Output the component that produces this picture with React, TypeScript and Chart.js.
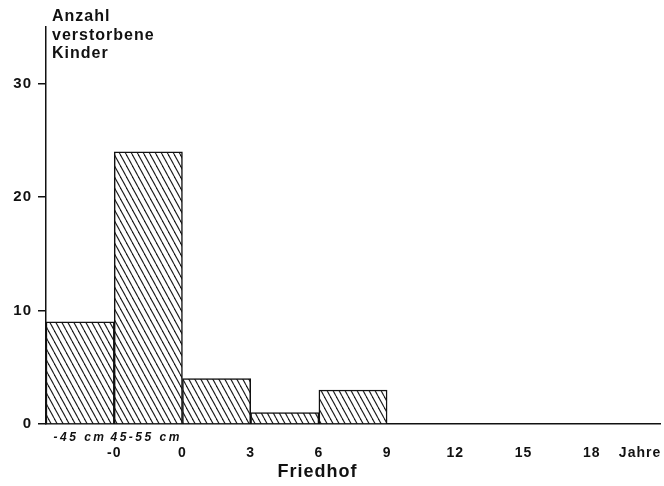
import React, { useEffect, useRef } from "react";
import { Chart, registerables } from "chart.js";

Chart.register(...registerables);

// Bin centers (in bin units along the x axis) and counts
const binCenters = [0.5, 1.5, 2.5, 3.5, 4.5, 5.5, 6.5, 7.5];
const counts = [9, 24, 4, 1, 3, 0, 0, 0];

// Main x tick positions and labels (bin boundaries)
const xTickValues = [1, 2, 3, 4, 5, 6, 7, 8];
const xTickLabels = ["-0", "0", "3", "6", "9", "12", "15", "18"];
const xUnitLabel = "Jahre";
const xUnitPos = 8.7;

// Size sub-labels under the first two bins
const sizeTickValues = [0.48, 1.45];
const sizeTickLabels = ["-45 cm", "45-55 cm"];

const yTickValues = [0, 10, 20, 30];
const yTitleLines = ["Anzahl", "verstorbene", "Kinder"];
const xTitle = "Friedhof";

const FONT = "'Liberation Sans', Arial, sans-serif";

function makeHatch(): CanvasPattern | string {
  const w = 6;
  const h = 11;
  const c = document.createElement("canvas");
  c.width = w;
  c.height = h;
  const ctx = c.getContext("2d");
  if (!ctx) return "#fff";
  ctx.fillStyle = "#ffffff";
  ctx.fillRect(0, 0, w, h);
  ctx.strokeStyle = "#1a1a1a";
  ctx.lineWidth = 1.1;
  for (const off of [-w, 0, w]) {
    ctx.beginPath();
    ctx.moveTo(off, 0);
    ctx.lineTo(off + w, h);
    ctx.stroke();
  }
  const p = ctx.createPattern(c, "repeat");
  return p || "#fff";
}

function spacedText(ctx: any, text: string, x: number, y: number, spacing: number, align: string) {
  ctx.letterSpacing = `${spacing}px`;
  const w = ctx.measureText(text).width - spacing;
  ctx.textAlign = "left";
  const x0 = align === "center" ? x - w / 2 : x;
  ctx.fillText(text, x0, y);
  ctx.letterSpacing = "0px";
}

export default function App() {
  const ref = useRef<HTMLCanvasElement | null>(null);

  useEffect(() => {
    if (!ref.current) return;
    const hatch = makeHatch();

    const textPlugin = {
      id: "customText",
      beforeDraw(chart: any) {
        chart.ctx.letterSpacing = "1px";
      },
      afterDraw(chart: any) {
        const ctx = chart.ctx;
        const xs = chart.scales.x;
        const bottom = chart.chartArea.bottom;
        ctx.save();
        ctx.fillStyle = "#111";
        ctx.font = `bold 16px ${FONT}`;
        ctx.textBaseline = "middle";
        yTitleLines.forEach((t, i) => spacedText(ctx, t, 52, 17 + i * 18.5, 1, "left"));
        ctx.font = `italic bold 12px ${FONT}`;
        sizeTickValues.forEach((v, i) =>
          spacedText(ctx, sizeTickLabels[i], xs.getPixelForValue(v), bottom + 14, 2.5, "center")
        );
        ctx.font = `bold 14px ${FONT}`;
        spacedText(ctx, xUnitLabel, xs.getPixelForValue(xUnitPos), bottom + 29, 1, "center");
        ctx.font = `bold 18px ${FONT}`;
        spacedText(ctx, xTitle, 317, 472, 1, "center");
        ctx.restore();
      },
    };

    const chart = new Chart(ref.current, {
      type: "bar",
      data: {
        datasets: [
          {
            xAxisID: "x",
            yAxisID: "y",
            data: binCenters.map((x, i) => ({ x, y: counts[i] })),
            backgroundColor: hatch as any,
            borderColor: "#111",
            borderWidth: 1.5,
            barPercentage: 1,
            categoryPercentage: 1,
          },
        ],
      },
      options: {
        animation: false,
        responsive: false,
        maintainAspectRatio: false,
        plugins: { legend: { display: false }, tooltip: { enabled: false } },
        layout: { padding: { top: 27, right: 4, bottom: 20, left: 0 } },
        scales: {
          x: {
            type: "linear",
            position: "bottom",
            min: 0,
            max: 9,
            offset: false,
            grid: { display: false, drawTicks: false },
            border: { display: true, color: "#111", width: 1.5 },
            afterBuildTicks: (s: any) => {
              s.ticks = xTickValues.map((v) => ({ value: v }));
            },
            afterFit: (s: any) => {
              s.height = 42;
              s.paddingLeft = 0;
              s.paddingRight = 0;
            },
            ticks: {
              autoSkip: false,
              maxRotation: 0,
              padding: 21,
              color: "#111",
              font: { family: FONT, size: 14, weight: "bold" },
              callback: (v: any) => {
                const i = xTickValues.indexOf(Number(v));
                return i >= 0 ? xTickLabels[i] : "";
              },
            },
          },
          y: {
            type: "linear",
            min: 0,
            max: 35,
            grid: { drawOnChartArea: false, drawTicks: true, tickLength: 8, color: "#111", lineWidth: 1.5 },
            border: { display: true, color: "#111", width: 1.5 },
            afterBuildTicks: (s: any) => {
              s.ticks = yTickValues.map((v) => ({ value: v }));
            },
            afterFit: (s: any) => {
              s.width = 46;
              s.paddingTop = 0;
              s.paddingBottom = 0;
            },
            ticks: {
              padding: 6,
              color: "#111",
              font: { family: FONT, size: 15, weight: "bold" },
            },
          },
        },
      },
      plugins: [textPlugin],
    } as any);

    return () => chart.destroy();
  }, []);

  return (
    <div style={{ position: "absolute", left: 0, top: 0, width: 664, height: 486, background: "#fff" }}>
      <canvas ref={ref} width={664} height={486} style={{ width: 664, height: 486 }} />
    </div>
  );
}
